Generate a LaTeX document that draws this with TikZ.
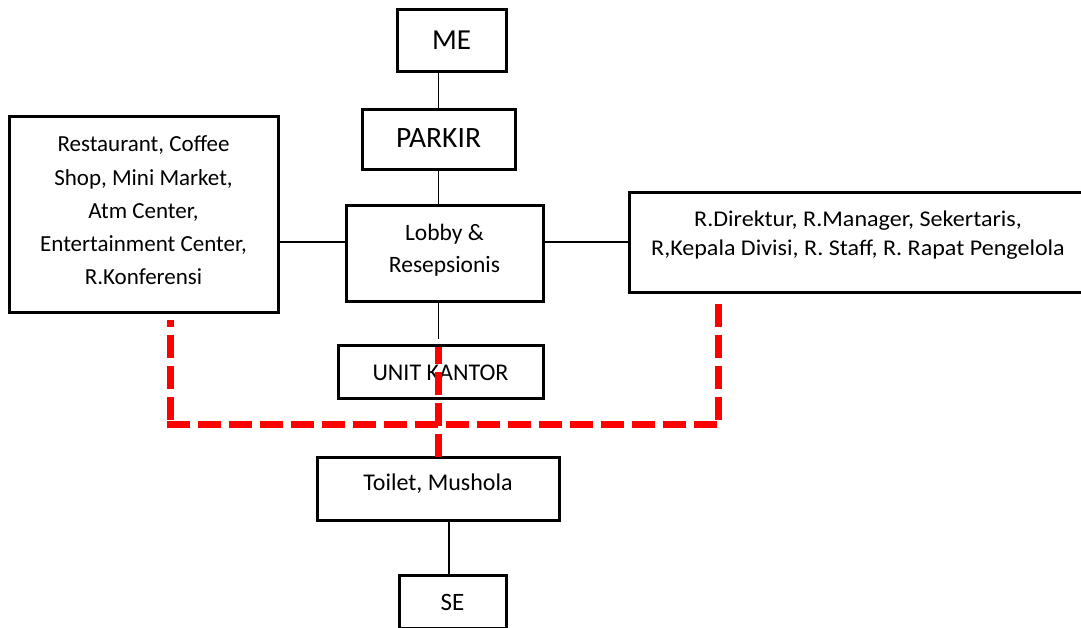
\documentclass[tikz,border=0pt]{standalone}
\usepackage{fontspec}
\setmainfont{Carlito}
\newfontfamily\widefont[FakeStretch=1.07]{Carlito}
\newcommand\textstack[1]{\setlength\tabcolsep{0pt}\begin{tabular}[t]{c}#1\end{tabular}}
\begin{document}
\begin{tikzpicture}[x=1pt,y=-1pt,
  box/.style={draw=black, line width=3pt, inner sep=0pt, outer sep=0pt},
  link/.style={draw=black, line width=1.1pt},
  route/.style={draw=red, line width=7pt, dash pattern=on 23pt off 8pt},
  txt/.style={anchor=base, inner sep=0pt, outer sep=0pt}]
\clip (0,0) rectangle (1081,627);
\fill[white] (0,0) rectangle (1081,627);

% boxes
\node[box, minimum width=109pt, minimum height=62pt]  (me)     at (451.5,40)  {};
\node[box, minimum width=153pt, minimum height=60pt]  (parkir) at (438.5,139) {};
\node[box, minimum width=197pt, minimum height=96pt]  (lobby)  at (444.5,253) {};
\node[box, minimum width=205pt, minimum height=53pt]  (unit)   at (440.5,371.5) {};
\node[box, minimum width=269pt, minimum height=196pt] (left)   at (143.5,214) {};
\node[box, minimum width=461pt, minimum height=100pt] (right)  at (859.5,242) {};
\node[box, minimum width=242pt, minimum height=63pt]  (toilet) at (438,488.5) {};
\node[box, minimum width=107pt, minimum height=53pt]  (se)     at (452.5,601.5) {};

% texts (each placed by the baseline of its first line)
\node[txt, font=\fontsize{29}{34}\selectfont] (meT) at (me.center |- 0,49.3) {ME};
\node[txt, font=\fontsize{29.5}{34}\selectfont] (parkirT) at (parkir.center |- 0,147.7) {PARKIR};
\node[txt, font=\fontsize{23.5}{32.7}\selectfont] (lobbyT) at (lobby.center |- 0,240) {\textstack{Lobby \&\\Resepsionis}};
\node[txt, font=\fontsize{24}{28}\selectfont] (unitT) at (unit.center |- 0,380) {UNIT KANTOR};
\node[txt, font=\fontsize{23}{33.3}\selectfont] (leftT) at (left.center |- 0,151.7) {\textstack{Restaurant, Coffee\\Shop, Mini Market,\\Atm Center,\\Entertainment Center,\\R.Konferensi}};
\node[txt, font=\widefont\fontsize{22.5}{29.5}\selectfont] (rightT) at (858,226) {\textstack{R.Direktur, R.Manager, Sekertaris,\\R,Kepala Divisi, R. Staff, R. Rapat Pengelola}};
\node[txt, font=\fontsize{24}{28}\selectfont] (toiletT) at (toilet.center |- 0,490.7) {Toilet, Mushola};
\node[txt, font=\fontsize{25}{28}\selectfont] (seT) at (se.center |- 0,610) {SE};

% black connectors
\draw[link] (parkir.north) -- (parkir.north |- me.south);
\draw[link] (parkir.south) -- (parkir.south |- lobby.north);
\draw[link] (lobby.south -| parkir.center) -- ([yshift=6pt]unit.north -| parkir.center);
\draw[link] (left.east |- right.west) -- (lobby.west |- right.west);
\draw[link] (lobby.east |- right.west) -- (right.west);
\draw[link] ([xshift=-3.5pt]se.north) -- ([xshift=-3.5pt]se.north |- toilet.south);

% red dashed route
\coordinate (la) at ([xshift=26.5pt,yshift=-8pt]left.south);
\coordinate (ra) at (718,304);
\coordinate (bus) at ([yshift=33pt]toilet.north);
\draw[route, dash phase=16pt] (la) -- (la |- bus);
\draw[route] ([xshift=-3.5pt]la |- bus) -- ([xshift=3.5pt]ra |- bus);
\draw[route] (ra) -- (ra |- bus);
\draw[route] (toilet.north) -- ([yshift=-2pt]unit.north -| toilet.north);
\end{tikzpicture}
\end{document}
